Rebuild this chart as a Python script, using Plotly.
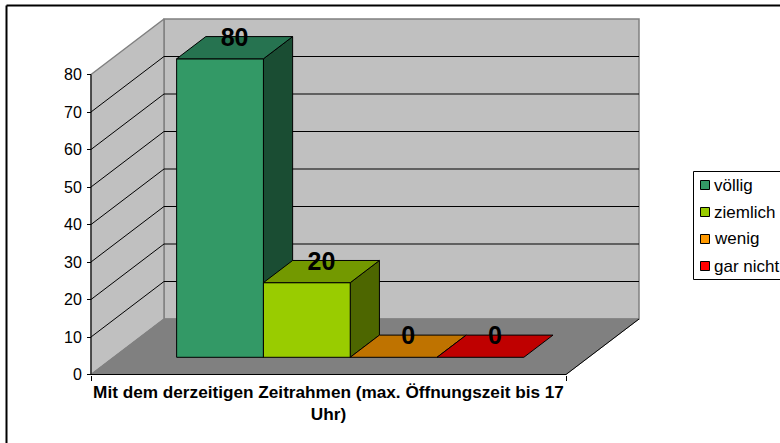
from plotly import graph_objects as go

# values
series_names = ['völlig', 'ziemlich', 'wenig', 'gar nicht']
series_values = [80, 20, 0, 0]
category_label = 'Mit dem derzeitigen Zeitrahmen (max. Öffnungszeit bis 17<br>Uhr)'
value_ticks = [0, 10, 20, 30, 40, 50, 60, 70, 80]

front_colors = ['#339966', '#99CC00', '#FF9900', '#FF0000']
top_colors = ['#267350', '#739900', '#BF7300', '#BF0000']
side_colors = ['#1A4D33', '#4D6600', '#805000', '#800000']

W, H = 780, 443
X0_PX, Y0_PX = 91, 374.5      # front left corner of the floor
X_PX = 475                    # pixels for one x unit (category width)
Y_PX = 3.75                   # pixels per value unit
DEPTH_DX = 73 / X_PX          # oblique shift of full depth, in x units
DEPTH_DY = 55.5 / Y_PX        # same, in value units
BAR_W = 86.8 / X_PX
BAR_GAP = 63 / X_PX
BAR_D0, BAR_D1 = 0.31, 0.71   # bar front and back, as depth fraction
BAR_SCALE = 0.995             # bars sit slightly short of the wall scale
TOP = 80


def project(x, v, d=0):
    return x + d * DEPTH_DX, v + d * DEPTH_DY


def poly(points, fill, line='black', width=1):
    xy = [project(*p) for p in points]
    xs = [p[0] for p in xy] + [xy[0][0]]
    ys = [p[1] for p in xy] + [xy[0][1]]
    return go.Scatter(x=xs, y=ys, mode='lines', fill='toself', fillcolor=fill,
                      line=dict(color=line, width=width), hoverinfo='skip', showlegend=False)


def seg(a, b, color='black', width=1):
    xy = [project(*a), project(*b)]
    return go.Scatter(x=[p[0] for p in xy], y=[p[1] for p in xy], mode='lines',
                      line=dict(color=color, width=width), hoverinfo='skip', showlegend=False)


data = [
    # walls and floor
    poly([(0, 0, 1), (1, 0, 1), (1, TOP, 1), (0, TOP, 1)], '#C0C0C0', '#808080', 1.5),
    poly([(0, 0, 0), (0, 0, 1), (0, TOP, 1), (0, TOP, 0)], '#C0C0C0', '#808080', 1.5),
    poly([(0, 0, 0), (1, 0, 0), (1, 0, 1), (0, 0, 1)], '#808080', '#808080', 1),
]
for v in value_ticks[1:-1]:
    data.append(seg((0, v, 0), (0, v, 1)))
    data.append(seg((0, v, 1), (1, v, 1)))
data.append(seg((0, 0, 0), (0, TOP, 0)))
data.append(seg((0, 0, 0), (1, 0, 0)))
data.append(seg((1, 0, 0), (1, 0, 1)))

# bars, left to right so that each one covers the side of the one before
label_x, label_y = [], []
for i, val in enumerate(series_values):
    x0 = BAR_GAP + i * BAR_W
    x1 = x0 + BAR_W
    h = val * BAR_SCALE
    if val > 0:
        data.append(poly([(x1, 0, BAR_D0), (x1, 0, BAR_D1), (x1, h, BAR_D1), (x1, h, BAR_D0)], side_colors[i]))
        data.append(poly([(x0, 0, BAR_D0), (x1, 0, BAR_D0), (x1, h, BAR_D0), (x0, h, BAR_D0)], front_colors[i]))
    data.append(poly([(x0, h, BAR_D0), (x1, h, BAR_D0), (x1, h, BAR_D1), (x0, h, BAR_D1)], top_colors[i]))
    lx, ly = project((x0 + x1) / 2, h + 2.2, (BAR_D0 + BAR_D1) / 2)
    label_x.append(lx)
    label_y.append(ly)

data.append(go.Scatter(x=label_x, y=label_y, mode='text', text=[str(v) for v in series_values],
                       textposition='middle center', hoverinfo='skip', showlegend=False,
                       textfont=dict(family='Liberation Sans', size=25, color='black', weight='bold')))

fig = go.Figure(data=data)


def px(x):
    return x / W


def py(y):
    return 1 - y / H


# chart frame and legend box
shapes = [
    dict(type='line', xref='paper', yref='paper', x0=px(6.5), x1=1, y0=py(5.5), y1=py(5.5), line=dict(color='black', width=2)),
    dict(type='line', xref='paper', yref='paper', x0=px(6.5), x1=px(6.5), y0=py(5.5), y1=0, line=dict(color='black', width=2)),
    dict(type='line', xref='paper', yref='paper', x0=px(693.5), x1=1, y0=py(171.5), y1=py(171.5), line=dict(color='black', width=1)),
    dict(type='line', xref='paper', yref='paper', x0=px(693.5), x1=1, y0=py(279.5), y1=py(279.5), line=dict(color='black', width=1)),
    dict(type='line', xref='paper', yref='paper', x0=px(693.5), x1=px(693.5), y0=py(171.5), y1=py(279.5), line=dict(color='black', width=1)),
]
annotations = []
for i, name in enumerate(series_names):
    yc = 185 + i * 27
    shapes.append(dict(type='rect', xref='paper', yref='paper', x0=px(700.5), x1=px(709.5),
                       y0=py(yc - 4.5), y1=py(yc + 4.5), fillcolor=front_colors[i], line=dict(color='black', width=1)))
    annotations.append(dict(xref='paper', yref='paper', x=px(712), y=py(yc), text=name, showarrow=False,
                            xanchor='left', yanchor='middle',
                            font=dict(family='Liberation Sans', size=17, color='black')))

fig.update_layout(
    width=W, height=H,
    margin=dict(l=0, r=0, t=0, b=0),
    paper_bgcolor='white',
    plot_bgcolor='white',
    showlegend=False,
    shapes=shapes,
    annotations=annotations,
    font=dict(family='Liberation Sans', size=16, color='black'),
    xaxis=dict(
        range=[-X0_PX / X_PX, (W - X0_PX) / X_PX],
        anchor='free', position=py(Y0_PX),
        showgrid=False, zeroline=False, showline=False,
        tickmode='array', tickvals=[0.5], ticktext=[category_label],
        ticks='', tickangle=0, ticklabelstandoff=5,
        tickfont=dict(family='Liberation Sans', size=17.2, color='black', weight='bold'),
        minor=dict(tickmode='array', tickvals=[0, 1], ticks='outside', ticklen=5, tickcolor='black', tickwidth=1, showgrid=False),
    ),
    yaxis=dict(
        range=[-(H - Y0_PX) / Y_PX, Y0_PX / Y_PX],
        anchor='free', position=px(X0_PX),
        showgrid=False, zeroline=False, showline=False,
        tickmode='array', tickvals=value_ticks,
        ticks='outside', ticklen=4, tickcolor='black', tickwidth=1, ticklabelstandoff=2,
        tickfont=dict(family='Liberation Sans', size=16, color='black'),
    ),
)

# the page keeps the browser's default 8px body margin otherwise
fig.write_html("out.html", config={'displayModeBar': False}, post_script="document.body.style.margin='0';")
